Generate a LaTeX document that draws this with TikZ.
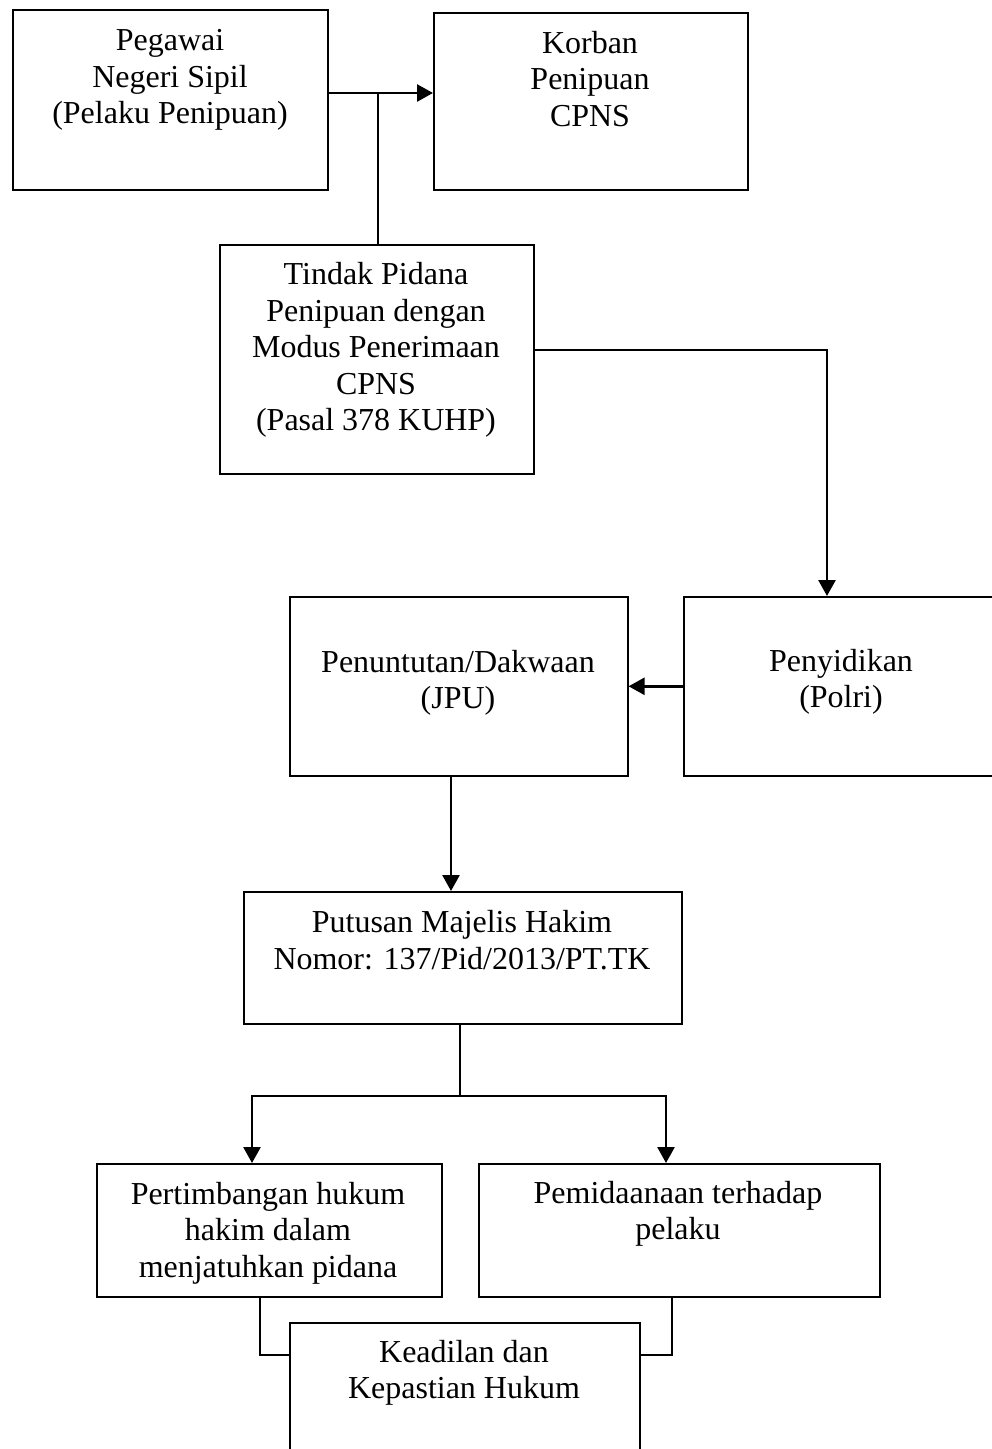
\documentclass[tikz,border=0pt]{standalone}
\usepackage{fontspec}
\setmainfont{Liberation Serif}
\usetikzlibrary{arrows.meta}
\tikzset{
  box/.style={draw=black, line width=0.9pt, inner sep=0pt, anchor=north west},
  boxtext/.style={align=center, inner sep=0pt, font=\fontsize{18.2}{20.8}\selectfont},
  link/.style={draw=black, line width=0.8pt},
  flow/.style={draw=black, line width=1.5pt, -{Triangle[length=3.2mm,width=3.4mm]}}
}

\begin{document}
\begin{tikzpicture}[x=0.2mm, y=-0.2mm]
  \useasboundingbox (0,0) rectangle (992,1449);
  \clip (0,0) rectangle (992,1449);

  % boxes
  \node[box, minimum width=63.0mm, minimum height=36.0mm] (pns) at (12,9) {};
  \node[box, minimum width=62.8mm, minimum height=35.4mm] (korban) at (433,12) {};
  \node[box, minimum width=62.8mm, minimum height=45.8mm] (tindak) at (219,244) {};
  \node[box, minimum width=63.2mm, minimum height=35.8mm] (penyidikan) at (683,596) {};
  \node[box, minimum width=67.6mm, minimum height=35.8mm] (penuntutan) at (289,596) {};
  \node[box, minimum width=87.6mm, minimum height=26.4mm] (putusan) at (243,891) {};
  \node[box, minimum width=69.0mm, minimum height=26.6mm] (pertimbangan) at (96,1163) {};
  \node[box, minimum width=80.2mm, minimum height=26.6mm] (pemidanaan) at (478,1163) {};
  \node[box, minimum width=70.0mm, minimum height=32.0mm] (keadilan) at (289,1322) {};

  % texts
  \node[boxtext] (pns-t) at (170,80) {Pegawai\\Negeri Sipil\\(Pelaku Penipuan)};
  \node[boxtext] (korban-t) at (590,79) {Korban\\Penipuan\\CPNS};
  \node[boxtext] (tindak-t) at (376,350) {Tindak Pidana\\Penipuan dengan\\Modus Penerimaan\\CPNS\\(Pasal 378 KUHP)};
  \node[boxtext] (penyidikan-t) at (841,682) {Penyidikan\\(Polri)};
  \node[boxtext] (penuntutan-t) at (458,683) {Penuntutan/Dakwaan\\(JPU)};
  \node[boxtext] (putusan-t) at (462,940) {Putusan Majelis Hakim\\Nomor: 137/Pid/2013/PT.TK};
  \node[boxtext] (pertimbangan-t) at (268,1233) {Pertimbangan hukum\\hakim dalam\\menjatuhkan pidana};
  \node[boxtext] (pemidanaan-t) at (678,1214) {Pemidaanaan terhadap\\pelaku};
  \node[boxtext] (keadilan-t) at (464,1373) {Keadilan dan\\Kepastian Hukum};

  % connectors
  \coordinate (top) at (378,93);
  \coordinate (turn) at (827,350);
  \coordinate (split) at (460,1096);
  \draw[flow] (pns.east |- top) -- (korban.west |- top);
  \draw[link] (top) -- (tindak.north -| top);
  \draw[flow] (tindak.east |- turn) -- (turn) -- (penyidikan.north -| turn);
  \draw[flow] (penyidikan.west) -- (penuntutan.east |- penyidikan.west);
  \draw[flow] (penuntutan.south -| 451,0) -- (putusan.north -| 451,0);
  \draw[link] (putusan.south -| split) -- (split);
  \draw[flow] (split) -| (pertimbangan.north -| 252,0);
  \draw[flow] (split) -| (pemidanaan.north -| 666,0);
  \draw[link] (pertimbangan.south -| 260,0) |- (keadilan.west |- 0,1355);
  \draw[link] (pemidanaan.south -| 672,0) |- (keadilan.east |- 0,1355);
\end{tikzpicture}
\end{document}
